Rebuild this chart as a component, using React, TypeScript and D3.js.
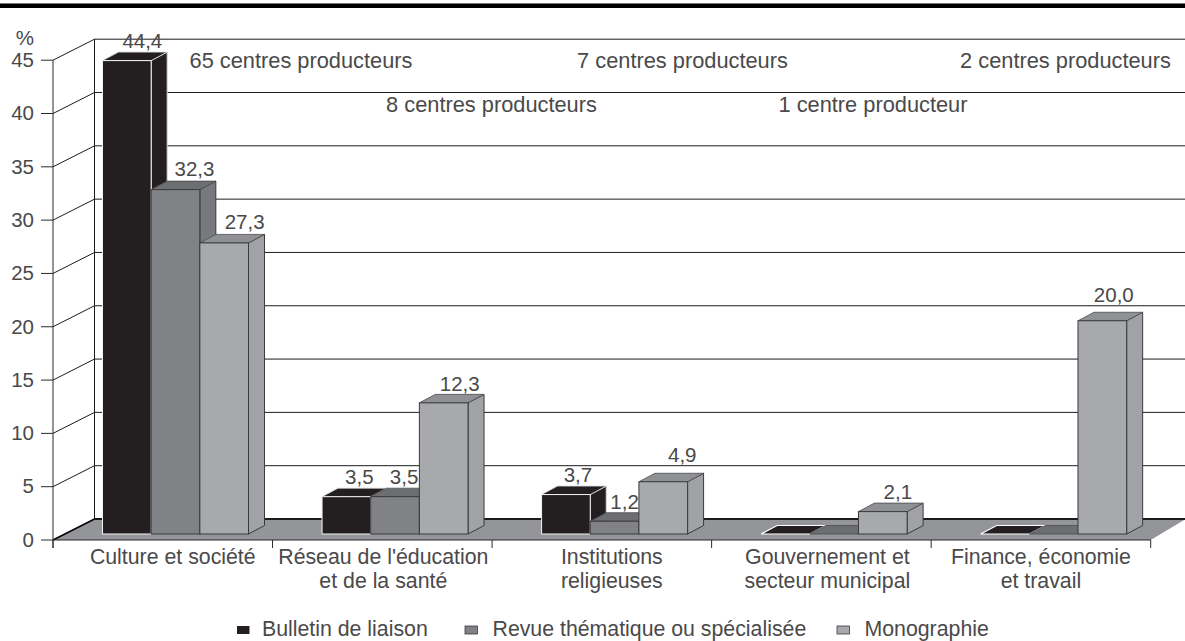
import React from 'react';
import * as d3 from 'd3';

const categories = ['Culture et société', "Réseau de l'éducation|et de la santé", 'Institutions|religieuses', 'Gouvernement et|secteur municipal', 'Finance, économie|et travail'];
const seriesNames = ['Bulletin de liaison', 'Revue thématique ou spécialisée', 'Monographie'];
const bulletin = [44.4, 3.5, 3.7, 0, 0];
const revue = [32.3, 3.5, 1.2, 0, 0];
const monographie = [27.3, 12.3, 4.9, 2.1, 20.0];
const seriesValues = [bulletin, revue, monographie];
const yTicks = [0, 5, 10, 15, 20, 25, 30, 35, 40, 45];
const centres = [
  { text: '65 centres producteurs', x: 301, row: 0 },
  { text: '8 centres producteurs', x: 491.5, row: 1 },
  { text: '7 centres producteurs', x: 682.5, row: 0 },
  { text: '1 centre producteur', x: 873, row: 1 },
  { text: '2 centres producteurs', x: 1065.5, row: 0 },
];
// label nudges from the front-face centre of each bar, by series then category
const labelDx = [[15.5, 13, 12, 0, 0], [19, 9, 10, 0, 0], [20.5, 16, 19, 15, 11.5]];
const labelDy = [[0, 0, 0, 0, 0], [-1, 0, 0, 0, 0], [-2, 0, -7, 0, -6]];
const catDx = [10, 1, 10, 6, 0];

const faces = [
  { front: '#231f20', top: '#231f20', side: '#231f20' },
  { front: '#808285', top: '#6d6e71', side: '#77797c' },
  { front: '#a7a9ac', top: '#8f9194', side: '#a0a2a5' },
];

const W = 1185, H = 641;
const FONT = '"Liberation Sans", Arial, sans-serif';
const TXT = '#4a494a';
const FS = 21.8;
const FS_CAT = 21.3;
const DX = 41.5, DY = -21; // depth of the chart box
const BDX = 16, BDY = -8.5; // depth of a bar
const BASE = -6; // bars stand slightly forward on the floor

const x0 = d3.scaleBand<number>().domain(d3.range(categories.length)).range([53, 1150.7]);
const x1 = d3.scaleBand<number>().domain(d3.range(seriesNames.length)).range([49.5, 195.5]);
const y = d3.scaleLinear().domain([0, 45]).range([540, 60.2]);
const poly = d3.line<[number, number]>().x(d => d[0]).y(d => d[1]);
const close = (p: [number, number][]) => poly(p) + 'Z';

export default function App() {
  const bw = x1.bandwidth();
  const bars: React.ReactNode[] = [];
  const labels: React.ReactNode[] = [];
  categories.forEach((_, c) => {
    seriesValues.forEach((vals, s) => {
      const v = vals[c];
      const f = faces[s];
      const xl = x0(c)! + x1(s)!;
      const xr = xl + bw;
      const yb = y(0) + BASE;
      const yt = y(v) + BASE;
      const top = close([[xl, yt], [xl + BDX, yt + BDY], [xr + BDX, yt + BDY], [xr, yt]]);
      const side = close([[xr, yt], [xr + BDX, yt + BDY], [xr + BDX, yb + BDY], [xr, yb]]);
      const isBlack = s === 0;
      bars.push(
        <g key={`${c}-${s}`}>
          {v > 0 && <path d={side} fill={f.side} stroke={isBlack ? '#d9d9da' : '#3a3a3c'} strokeWidth={1} />}
          <path d={top} fill={f.top} stroke={isBlack ? (v === 0 ? '#ffffff' : '#d9d9da') : '#4d4d4f'} strokeWidth={isBlack && v === 0 ? 1.2 : 0.8} />
          {v > 0 && <rect x={xl} y={yt} width={bw} height={yb - yt} fill={f.front} stroke={isBlack ? '#f2f2f2' : '#3a3a3c'} strokeWidth={1} />}
        </g>
      );
      if (v > 0) {
        labels.push(
          <text key={`l${c}-${s}`} fontSize={20.5} x={xl + bw / 2 + labelDx[s][c]} y={yt + BDY - 3.8 + labelDy[s][c]} textAnchor="middle">
            {d3.format('.1f')(v).replace('.', ',')}
          </text>
        );
      }
    });
  });

  return (
    <svg width={W} height={H} viewBox={`0 0 ${W} ${H}`} style={{ position: 'absolute', left: 0, top: 0, background: '#fff', display: 'block' }}>
      <rect x={0} y={3} width={W} height={5} fill="#000" />
      <rect x={0} y={3} width={W} height={1} fill="#777" />

      {/* back wall grid */}
      <g stroke="#1c1b1c" strokeWidth={1} fill="none">
        {yTicks.filter(t => t > 0).map(t => (
          <g key={t}>
            <line x1={x0.range()[0]} y1={y(t)} x2={x0.range()[0] + DX} y2={y(t) + DY} />
            <line x1={x0.range()[0] + DX} y1={y(t) + DY} x2={W} y2={y(t) + DY} />
          </g>
        ))}
        <line x1={53 + DX} y1={y(45) + DY} x2={53 + DX} y2={y(0) + DY} />
      </g>

      {/* floor */}
      <path d={close([[53, y(0)], [53 + DX, y(0) + DY], [W + 1, y(0) + DY], [1150.7, y(0)]])} fill="#939598" />
      <line x1={53 + DX} y1={y(0) + DY} x2={W} y2={y(0) + DY} stroke="#1c1b1c" strokeWidth={2} />
      <line x1={53} y1={y(0)} x2={53 + DX} y2={y(0) + DY} stroke="#000" strokeWidth={1.5} />
      <line x1={53} y1={y(0)} x2={1150.7} y2={y(0)} stroke="#2b2a2b" strokeWidth={1.2} />

      {/* axis */}
      <g stroke="#2b2a2b" strokeWidth={1}>
        <line x1={53} y1={y(45)} x2={53} y2={548} />
        {yTicks.map(t => <line key={t} x1={41} x2={53} y1={y(t)} y2={y(t)} />)}
        {d3.range(categories.length + 1).map(i => {
          const xt = i < categories.length ? x0(i)! : x0.range()[1];
          return <line key={i} x1={xt} x2={xt} y1={y(0)} y2={548} />;
        })}
      </g>

      {bars}

      <g fontFamily={FONT} fontSize={FS} fill={TXT}>
        {yTicks.map(t => <text key={t} fontSize={20.5} x={34} y={y(t) + 6.8} textAnchor="end">{t}</text>)}
        <text x={34} y={45} fontSize={20.5} textAnchor="end">%</text>
        {labels}
        {centres.map(a => (
          <text key={a.text} x={a.x} y={a.row === 0 ? 67.7 : 111.7} textAnchor="middle">{a.text}</text>
        ))}
        {categories.map((cat, c) => (
          <text key={cat} textAnchor="middle" fontSize={FS_CAT}>
            {cat.split('|').map((ln, i) => (
              <tspan key={i} x={x0(c)! + x0.bandwidth() / 2 + catDx[c]} y={564 + i * 24}>{ln}</tspan>
            ))}
          </text>
        ))}
        {seriesNames.map((n, s) => {
          const lx = [237, 465, 837][s];
          const tx = [262, 492.5, 864.5][s];
          return (
            <g key={n}>
              <rect x={lx} y={626} width={12.5} height={8} fill={faces[s].front} stroke={s === 0 ? 'none' : '#3a3a3c'} strokeWidth={0.8} />
              <text x={tx} y={636} fontSize={FS_CAT}>{n}</text>
            </g>
          );
        })}
      </g>
    </svg>
  );
}
